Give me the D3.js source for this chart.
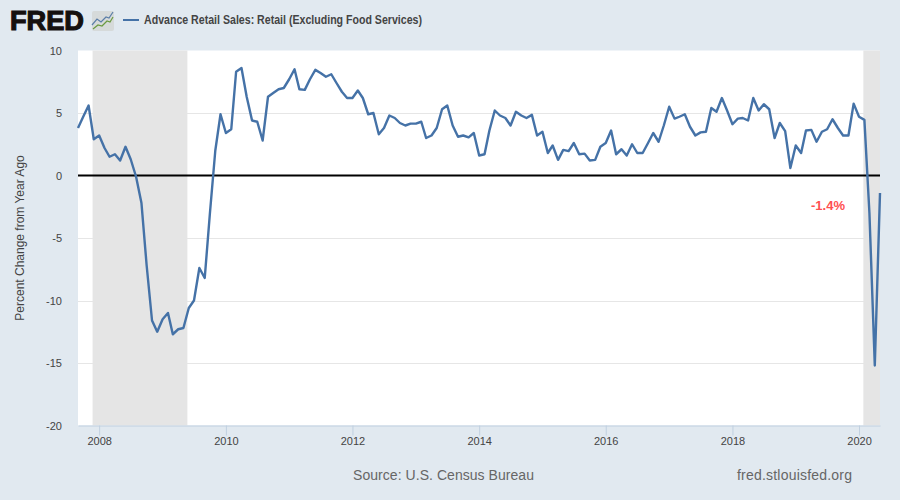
<!DOCTYPE html>
<html><head><meta charset="utf-8">
<script src="https://cdnjs.cloudflare.com/ajax/libs/d3/7.8.5/d3.min.js"></script>
<style>html,body{margin:0;padding:0;background:#e1e9f0}svg{display:block}</style>
</head><body><svg id="c" width="900" height="500"></svg>
<script>
const startDate = "2007-09-01";
const values = [
3.8,4.7,5.6,2.9,
3.2,2.2,1.5,1.7,1.2,2.3,1.3,-0.1,-2.2,-7.2,-11.6,-12.5,
-11.5,-11.0,-12.7,-12.3,-12.2,-10.6,-10.0,-7.4,-8.2,-3.0,2.0,4.9,
3.4,3.7,8.3,8.6,6.3,4.4,4.3,2.8,6.3,6.6,6.9,7.0,
7.7,8.5,6.9,6.85,7.7,8.45,8.2,7.9,8.1,7.4,6.7,6.2,
6.2,6.8,6.2,4.9,5.0,3.3,3.8,4.8,4.6,4.2,4.0,4.15,
4.15,4.3,3.0,3.2,3.8,5.3,5.6,4.0,3.1,3.2,3.05,3.4,
1.6,1.7,3.6,5.2,4.8,4.6,4.0,5.1,4.8,4.6,4.85,3.2,
3.5,1.8,2.4,1.25,2.05,1.95,2.6,1.7,1.75,1.2,1.25,2.3,
2.6,3.6,1.7,2.1,1.6,2.5,1.8,1.8,2.6,3.4,2.7,4.0,
5.5,4.55,4.7,4.9,3.9,3.2,3.45,3.5,5.4,5.1,6.2,5.2,
4.1,4.55,4.6,4.4,6.2,5.2,5.7,5.3,3.0,4.2,3.55,0.6,
2.4,1.8,3.6,3.65,2.7,3.5,3.7,4.5,3.8,3.2,3.2,5.75,
4.7,4.45,-3.0,-15.2,-1.4];
const recessions = [["2007-11-24","2009-05-24"],["2020-01-26","2020-05-01"]];
const yTicks = [10,5,0,-5,-10,-15,-20];
const xTicks = [2008,2010,2012,2014,2016,2018,2020];
const seriesName = "Advance Retail Sales: Retail (Excluding Food Services)";
const yTitle = "Percent Change from Year Ago";
const note = "-1.4%";
const source = "Source: U.S. Census Bureau";
const site = "fred.stlouisfed.org";

const utc = s => new Date(s + "T00:00:00Z");
const dates = d3.range(values.length).map(i => d3.utcMonth.offset(utc(startDate), i));
const L = 78, R = 880, T = 50.5, B = 425.5;
const x = d3.scaleUtc().domain([dates[0], dates[dates.length-1]]).range([L, R]);
const y = d3.scaleLinear().domain([-20, 10]).range([B, T]);
const svg = d3.select("#c");
const font = "'Liberation Sans', Arial, sans-serif";

svg.append("rect").attr("x",L).attr("y",T).attr("width",R-L).attr("height",B-T).attr("fill","#fff");
svg.append("g").selectAll("line").data(yTicks.filter(d=>d!==0&&d!==-20&&d!==10)).join("line")
  .attr("x1",L).attr("x2",R).attr("y1",d=>Math.round(y(d))+.5).attr("y2",d=>Math.round(y(d))+.5)
  .attr("stroke","#e6e6e6");
svg.append("g").selectAll("rect").data(recessions).join("rect")
  .attr("x",d=>x(utc(d[0]))).attr("width",d=>x(utc(d[1]))-x(utc(d[0])))
  .attr("y",T).attr("height",B-T).attr("fill","#e5e5e5");

const yAxis = d3.axisLeft(y).tickValues(yTicks).tickSize(0).tickPadding(16).tickFormat(d=>d<0?"-"+Math.abs(d):d);
const gy = svg.append("g").attr("transform",`translate(${L},0)`).call(yAxis);
gy.select(".domain").remove();
gy.selectAll("text").attr("font-family",font).attr("font-size",11).attr("fill","#444");

const xAxis = d3.axisBottom(x).tickValues(xTicks.map(v=>utc(v+"-01-01"))).tickSize(10).tickSizeOuter(0).tickPadding(2).tickFormat(d=>d.getUTCFullYear());
const gx = svg.append("g").attr("transform",`translate(0,${B})`).call(xAxis);
gx.select(".domain").attr("stroke","#c0d0e0");
gx.selectAll("line").attr("stroke","#c0d0e0");
gx.selectAll("text").attr("font-family",font).attr("font-size",11).attr("fill","#444");

svg.append("line").attr("x1",L).attr("x2",R).attr("y1",y(0)).attr("y2",y(0)).attr("stroke","#000").attr("stroke-width",2);
svg.append("path").attr("d",d3.line().x((d,i)=>x(dates[i])).y(d=>y(d))(values))
  .attr("fill","none").attr("stroke","#4572a7").attr("stroke-width",2.4).attr("stroke-linejoin","round");

svg.append("text").attr("transform","translate(24,238) rotate(-90)").attr("text-anchor","middle")
  .attr("font-family",font).attr("font-size",12).attr("fill","#444").text(yTitle);
svg.append("text").attr("x",828).attr("y",210).attr("text-anchor","middle")
  .attr("font-family",font).attr("font-size",13).attr("font-weight","bold").attr("fill","#ff5050").text(note);
svg.append("text").attr("x",353).attr("y",480).attr("font-family",font).attr("font-size",14).attr("fill","#666").attr("textLength",181).text(source);
svg.append("text").attr("x",737).attr("y",480).attr("font-family",font).attr("font-size",14).attr("fill","#666").attr("textLength",115).text(site);

// header
svg.append("text").attr("x",10).attr("y",30).attr("font-family",font).attr("font-size",28).attr("font-weight","bold")
  .attr("fill","#15100f").attr("stroke","#15100f").attr("stroke-width",1.2).attr("textLength",74).attr("lengthAdjust","spacingAndGlyphs").text("FRED");
svg.append("line").attr("x1",123).attr("x2",139).attr("y1",20).attr("y2",20).attr("stroke","#4572a7").attr("stroke-width",2);
svg.append("text").attr("x",144).attr("y",24).attr("font-family",font).attr("font-size",12).attr("font-weight","bold").attr("fill","#444").attr("textLength",278).attr("lengthAdjust","spacingAndGlyphs").text(seriesName);
const icon = svg.append("g").attr("transform","translate(92,11)");
icon.append("rect").attr("width",22).attr("height",20).attr("rx",2).attr("fill","#d6dada");
icon.append("path").attr("d","M0 14L5 8L9 11L14 6L17 7L21 1").attr("fill","none").attr("stroke","#5b7ea8").attr("stroke-width",1.2);
icon.append("path").attr("d","M1 18L6 14L10 15L15 10L18 11L21 6").attr("fill","none").attr("stroke","#6a9a40").attr("stroke-width",1.2);
</script></body></html>
